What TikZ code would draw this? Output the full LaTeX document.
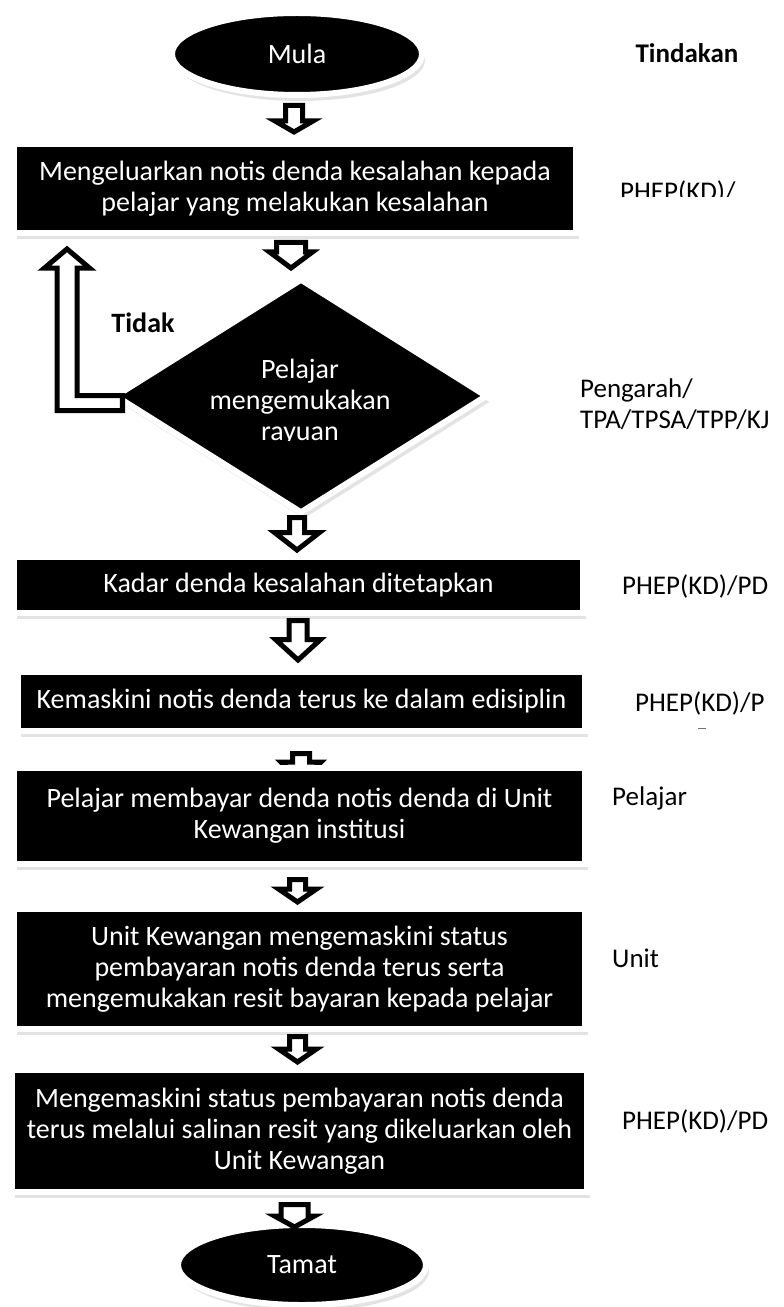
\documentclass[tikz,border=0pt]{standalone}
\usepackage{fontspec}
\setmainfont{Carlito}
\usetikzlibrary{shapes.geometric,calc,shadows,backgrounds}

\newcommand{\flowfont}{\fontsize{28bp}{31bp}\selectfont}
\newcommand{\notefont}{\fontsize{27bp}{31bp}\selectfont}

\tikzset{
  boxshadow/.style={drop shadow={opacity=0.22, shadow xshift=3bp, shadow yshift=-6bp}},
  stepbox/.style={rectangle, fill=black, draw=white, line width=6bp, text=white,
    align=center, inner sep=0pt, boxshadow},
  terminal/.style={ellipse, fill=black, draw=white, line width=6bp, text=white,
    inner sep=0pt, boxshadow},
  decision/.style={diamond, aspect=1.59, fill=black, draw=white, line width=6bp,
    inner sep=0pt, boxshadow},
  hollow/.style={draw=black, fill=white, line width=5bp, line join=miter},
  note/.style={anchor=base west, text=black, inner sep=0pt, font=\notefont},
}

% hollow block arrow: from, to, half shaft, half head, head length
\newcommand{\hollowarrow}[5]{%
  \draw[hollow] let \p1=(#1), \p2=(#2) in
    (\x1-#3bp,\y1) -- (\x1-#3bp,\y2+#5bp) -- (\x1-#4bp,\y2+#5bp) -- (\x1,\y2)
    -- (\x1+#4bp,\y2+#5bp) -- (\x1+#3bp,\y2+#5bp) -- (\x1+#3bp,\y1) -- cycle;}

\begin{document}
\begin{tikzpicture}[x=1bp, y=-1bp, font=\flowfont]
    \useasboundingbox (0,0) rectangle (783,1307);

    % Steps
    \node[terminal, minimum width=250bp, minimum height=82bp] (mula) at (297,54) {Mula};
    \node[stepbox, minimum width=562bp, minimum height=89bp] (keluar) at (295,188.5)
        {Mengeluarkan notis denda kesalahan kepada\\pelajar yang melakukan kesalahan};
    \node[decision, minimum width=373bp, minimum height=235bp] (rayuan) at (301,396) {};
    \node[stepbox, minimum width=569bp, minimum height=56bp] (kadar) at (298.5,585)
        {Kadar denda kesalahan ditetapkan};
    \node[stepbox, minimum width=567bp, minimum height=59bp] (kemaskini) at (301.5,701.5)
        {Kemaskini notis denda terus ke dalam edisiplin};
    \node[stepbox, minimum width=571bp, minimum height=96bp] (bayar) at (299.5,816)
        {Pelajar membayar denda notis denda di Unit\\Kewangan institusi};
    \node[stepbox, minimum width=571bp, minimum height=120bp] (unit) at (299.5,969)
        {Unit Kewangan mengemaskini status\\pembayaran notis denda terus serta\\mengemukakan resit bayaran kepada pelajar};
    \node[stepbox, minimum width=575bp, minimum height=122bp] (salinan) at (299.5,1131)
        {Mengemaskini status pembayaran notis denda\\terus melalui salinan resit yang dikeluarkan oleh\\Unit Kewangan};
    \node[terminal, minimum width=248bp, minimum height=80bp] (tamat) at (302,1265) {Tamat};

    % Decision text
    \begin{scope}
        \clip (150,300) rectangle (450,440.5);
        \node[text=white, align=center, inner sep=0pt] (rayuantext) at (300,402)
            {Pelajar\\mengemukakan\\rayuan};
    \end{scope}
    \node[font=\flowfont\bfseries] (tidak) at (143,323) {Tidak};

    % Tindakan column
    \node[font=\notefont\bfseries, anchor=base] (tindakan) at (687,63) {Tindakan};
    \begin{scope}
        \clip (600,150) rectangle (783,197);
        \node[note] (phepkeluar) at (620,201) {PHEP(KD)/};
    \end{scope}
    \node[note] (pengarah) at (580,397) {Pengarah/};
    \node[note] (tpa) at (580,428) {TPA/TPSA/TPP/KJ};
    \node[note] (phepkadar) at (622,594) {PHEP(KD)/PD};
    \node[note] (phepkemaskini) at (635,711) {PHEP(KD)/P};
    \draw[line width=1bp, black!55] (698,728) -- (706,728);
    \node[note] (pelajar) at (612,805) {Pelajar};
    \node[note] (unitnote) at (612,967) {Unit};
    \node[note] (phepsalinan) at (622,1129) {PHEP(KD)/PD};

    % Arrows
    \hollowarrow{$(mula.south)+(-3,7.5)$}{$(keluar.north)+(0,-9)$}{8.5}{19}{11}
    \hollowarrow{$(keluar.south)+(-4,6.5)$}{$(rayuan.north)+(0,-7.5)$}{14.5}{21.5}{16}
    \hollowarrow{$(rayuan.south)+(-4,1)$}{$(kadar.north)+(0,-4)$}{7.5}{22.5}{17.5}
    \hollowarrow{$(kadar.south)+(-0.5,4.5)$}{$(kemaskini.north)+(0,-9)$}{9}{22.5}{20.5}
    \begin{pgfonlayer}{background}
        \coordinate (stubend) at (301,782);
        \hollowarrow{$(kemaskini.south)+(-0.5,19.5)$}{stubend}{8.5}{20}{20}
    \end{pgfonlayer}
    \hollowarrow{$(bayar.south)+(-2,12.5)$}{$(unit.north)+(0,-4)$}{8}{19}{13}
    \hollowarrow{$(unit.south)+(-2,4.5)$}{$(salinan.north)+(0,-5)$}{8}{19}{13}
    \hollowarrow{$(salinan.south)+(-5,9.5)$}{$(tamat.north)+(0,5)$}{13.5}{20}{11}

    % Back to first step
    \coordinate (tidakturn) at (67,403);
    \draw[hollow] let \p1=(rayuan.west), \p2=(tidakturn), \p3=(keluar.south) in
        (\x1+11bp,\y2+7.5bp) -- (\x2+10bp,\y2+7.5bp) -- (\x2+10bp,\y3-32bp)
        -- (\x2+22.5bp,\y3-32bp) -- (\x2,\y3-13bp) -- (\x2-22.5bp,\y3-32bp)
        -- (\x2-10bp,\y3-32bp) -- (\x2-10bp,\y2-7.5bp) -- (\x1+11bp,\y2-7.5bp) -- cycle;
\end{tikzpicture}
\end{document}
